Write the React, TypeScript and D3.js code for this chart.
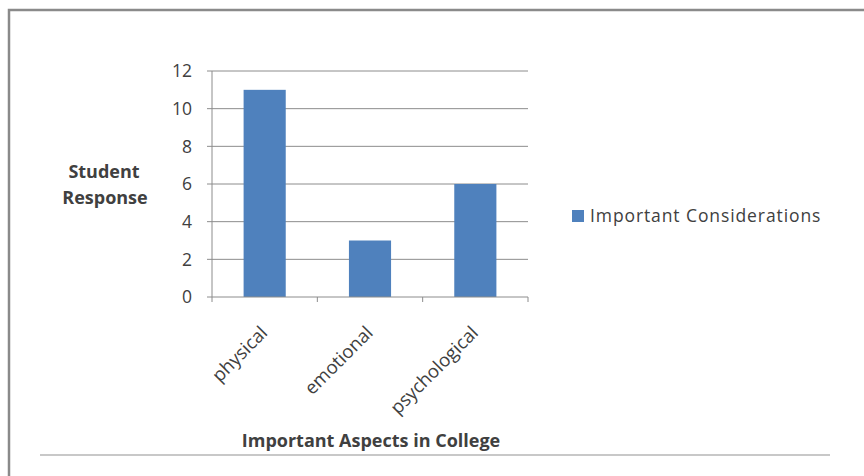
import React from "react";
import * as d3 from "d3";

const categories = ["physical", "emotional", "psychological"];
const values = [11, 3, 6];
const yTicks = [0, 2, 4, 6, 8, 10, 12];
const seriesName = "Important Considerations";
const yTitle = ["Student", "Response"];
const xTitle = "Important Aspects in College";

const W = 864;
const H = 476;
const plot = { left: 212, right: 528, top: 71, bottom: 297 };
const font = "'Open Sans', Lato, sans-serif";
const textColor = "#404040";
const axisColor = "#8c8c8c";
const barColor = "#4f81bd";

export default function App() {
  const x = d3
    .scaleBand<string>()
    .domain(categories)
    .range([plot.left, plot.right])
    .paddingInner(0.6)
    .paddingOuter(0.3);
  const xOuter = d3.scaleBand<string>().domain(categories).range([plot.left, plot.right]);
  const y = d3.scaleLinear().domain([0, 12]).range([plot.bottom, plot.top]);

  const boundaries = [plot.left, ...categories.map((c) => (xOuter(c) as number) + xOuter.bandwidth())];

  return (
    <svg
      width={W}
      height={H}
      style={{ position: "absolute", left: 0, top: 0, background: "#fff" }}
      fontFamily={font}
    >
      {/* chart frame */}
      <rect x={9} y={10} width={W + 10} height={H + 10} fill="#fff" stroke="#8a8a8a" strokeWidth={2.5} />
      <line x1={40} x2={830} y1={455} y2={455} stroke="#c8c8c8" strokeWidth={2} />

      {/* gridlines and value axis */}
      {yTicks.map((t) => (
        <g key={t}>
          {t > 0 && (
            <line x1={plot.left} x2={plot.right} y1={y(t)} y2={y(t)} stroke={axisColor} strokeWidth={1} />
          )}
          <line x1={plot.left - 5} x2={plot.left} y1={y(t)} y2={y(t)} stroke={axisColor} />
          <text
            x={plot.left - 20}
            y={y(t)}
            dy="0.36em"
            textAnchor="end"
            fontSize={17.5}
            fill={textColor}
          >
            {t}
          </text>
        </g>
      ))}

      {/* bars */}
      {categories.map((c, i) => (
        <rect
          key={c}
          x={x(c)}
          y={y(values[i])}
          width={x.bandwidth()}
          height={y(0) - y(values[i])}
          fill={barColor}
        />
      ))}

      {/* axes */}
      <line x1={plot.left} x2={plot.left} y1={plot.top} y2={plot.bottom} stroke={axisColor} />
      <line x1={plot.left} x2={plot.right} y1={plot.bottom} y2={plot.bottom} stroke={axisColor} />
      {boundaries.map((b, i) => (
        <line key={i} x1={b} x2={b} y1={plot.bottom} y2={plot.bottom + 5} stroke={axisColor} />
      ))}

      {/* category labels */}
      {categories.map((c) => {
        const cx = (xOuter(c) as number) + xOuter.bandwidth() / 2 + 4;
        const cy = plot.bottom + 37;
        return (
          <text
            key={c}
            transform={`translate(${cx},${cy}) rotate(-45)`}
            textAnchor="end"
            fontSize={18.5}
            fill={textColor}
          >
            {c}
          </text>
        );
      })}

      {/* axis titles */}
      <text textAnchor="middle" fontSize={18} fontWeight="bold" fill={textColor}>
        <tspan x={104} y={178}>{yTitle[0]}</tspan>
        <tspan x={105} y={204}>{yTitle[1]}</tspan>
      </text>
      <text x={371} y={447} textAnchor="middle" fontSize={18} fontWeight="bold" fill={textColor}>
        {xTitle}
      </text>

      {/* legend */}
      <rect x={572} y={210} width={12} height={12} fill={barColor} />
      <text x={590} y={222} fontSize={17.5} letterSpacing={0.9} fill={textColor}>
        {seriesName}
      </text>
    </svg>
  );
}
